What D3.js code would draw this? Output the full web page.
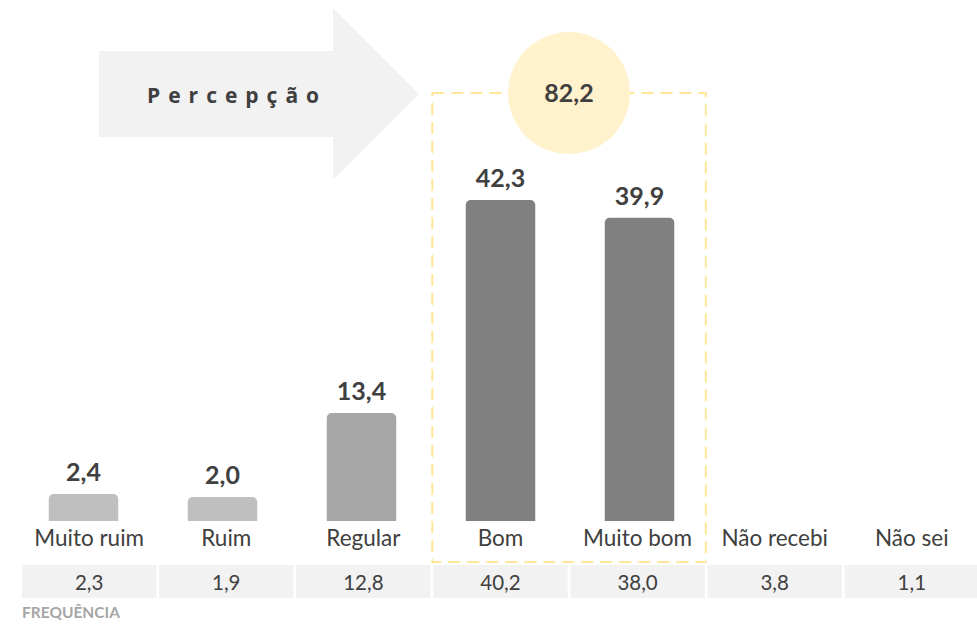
<!DOCTYPE html>
<html>
<head>
<meta charset="utf-8">
<script src="https://cdn.jsdelivr.net/npm/d3@7"></script>
<style>
  body { margin: 0; background: #fff; }
  svg { display: block; }
</style>
</head>
<body>
<div id="chart"></div>
<script>
var categories = ["Muito ruim", "Ruim", "Regular", "Bom", "Muito bom", "Não recebi", "Não sei"];
var barCategories = ["Muito ruim", "Ruim", "Regular", "Bom", "Muito bom"];
var perception = [2.4, 2.0, 13.4, 42.3, 39.9];
var frequency = [2.3, 1.9, 12.8, 40.2, 38.0, 3.8, 1.1];
var positiveTotal = 82.2;
var fmt = function(v) { return v.toFixed(1).replace(".", ","); };

var width = 977,
	height = 629,
	base = 521,
	textColor = "#404040",
	font = "Lato, 'Open Sans', sans-serif";

var barColors = { "Muito ruim": "#bfbfbf", "Ruim": "#bfbfbf", "Regular": "#a6a6a6", "Bom": "#808080", "Muito bom": "#808080" };

var svg = d3.select("#chart").append("svg")
	.attr("width", width)
	.attr("height", height);

// columns for labels and the frequency row
var xCol = d3.scaleBand().domain(categories).range([22, 979]).paddingInner(0.02);
// bars sit on a slightly wider grid
var xBar = d3.scaleBand().domain(categories).range([14, 987]).paddingInner(0.5).paddingOuter(0.25);
var y = d3.scaleLinear().domain([-1.26, 42.3]).range([base, 200]);

// arrow
var arrow = d3.path();
arrow.moveTo(99, 51);
arrow.lineTo(333, 51);
arrow.lineTo(333, 8);
arrow.lineTo(419, 94);
arrow.lineTo(333, 180);
arrow.lineTo(333, 137);
arrow.lineTo(99, 137);
arrow.closePath();
svg.append("path").attr("d", arrow.toString()).attr("fill", "#f2f2f2");

svg.append("text")
	.attr("x", 147).attr("y", 103)
	.attr("fill", textColor)
	.style("font-family", "'Open Sans', sans-serif")
	.style("font-weight", 700)
	.style("font-size", "21px")
	.style("letter-spacing", "8px")
	.text("Percepção");

// dashed highlight box round Bom + Muito bom
var boxX0 = xCol("Bom") - 1,
	boxX1 = xCol("Muito bom") + xCol.bandwidth() + 1;
svg.append("rect")
	.attr("x", boxX0).attr("y", 93)
	.attr("width", boxX1 - boxX0).attr("height", 469)
	.attr("fill", "none")
	.attr("stroke", "#ffe699")
	.attr("stroke-width", 2)
	.attr("stroke-dasharray", "12,7");

// total bubble
var cx = (boxX0 + boxX1) / 2;
svg.append("circle")
	.attr("cx", cx).attr("cy", 93).attr("r", 61)
	.attr("fill", "#fff2cc");
svg.append("text")
	.attr("x", cx).attr("y", 102)
	.attr("text-anchor", "middle")
	.attr("fill", textColor)
	.style("font-family", font)
	.style("font-weight", 700)
	.style("font-size", "25px")
	.text(fmt(positiveTotal));

// bars
var r = 5;
function barPath(x, top, w) {
	var p = d3.path();
	p.moveTo(x, base);
	p.lineTo(x, top + r);
	p.arcTo(x, top, x + r, top, r);
	p.lineTo(x + w - r, top);
	p.arcTo(x + w, top, x + w, top + r, r);
	p.lineTo(x + w, base);
	p.closePath();
	return p.toString();
}

svg.selectAll(".bar")
	.data(barCategories)
	.enter().append("path")
	.attr("class", "bar")
	.attr("d", function(d, i) { return barPath(xBar(d), y(perception[i]), xBar.bandwidth()); })
	.attr("fill", function(d) { return barColors[d]; });

svg.selectAll(".bar-label")
	.data(barCategories)
	.enter().append("text")
	.attr("class", "bar-label")
	.attr("x", function(d) { return xBar(d) + xBar.bandwidth() / 2; })
	.attr("y", function(d, i) { return y(perception[i]) - 13; })
	.attr("text-anchor", "middle")
	.attr("fill", textColor)
	.style("font-family", font)
	.style("font-weight", 700)
	.style("font-size", "25px")
	.text(function(d, i) { return fmt(perception[i]); });

// category labels
svg.selectAll(".cat")
	.data(categories)
	.enter().append("text")
	.attr("class", "cat")
	.attr("x", function(d) { return xCol(d) + xCol.bandwidth() / 2; })
	.attr("y", 546)
	.attr("text-anchor", "middle")
	.attr("fill", textColor)
	.style("font-family", font)
	.style("font-size", "22.5px")
	.text(function(d) { return d; });

// frequency row
svg.selectAll(".cell")
	.data(categories)
	.enter().append("rect")
	.attr("class", "cell")
	.attr("x", function(d) { return xCol(d); })
	.attr("y", 565)
	.attr("width", xCol.bandwidth())
	.attr("height", 33)
	.attr("fill", "#f2f2f2");

svg.selectAll(".freq")
	.data(categories)
	.enter().append("text")
	.attr("class", "freq")
	.attr("x", function(d) { return xCol(d) + xCol.bandwidth() / 2; })
	.attr("y", 590)
	.attr("text-anchor", "middle")
	.attr("fill", textColor)
	.style("font-family", font)
	.style("font-size", "20.5px")
	.text(function(d, i) { return fmt(frequency[i]); });

svg.append("text")
	.attr("x", 22).attr("y", 618)
	.attr("fill", "#a6a6a6")
	.style("font-family", font)
	.style("font-weight", 700)
	.style("font-size", "15.5px")
	.text("FREQUÊNCIA");
</script>
</body>
</html>
